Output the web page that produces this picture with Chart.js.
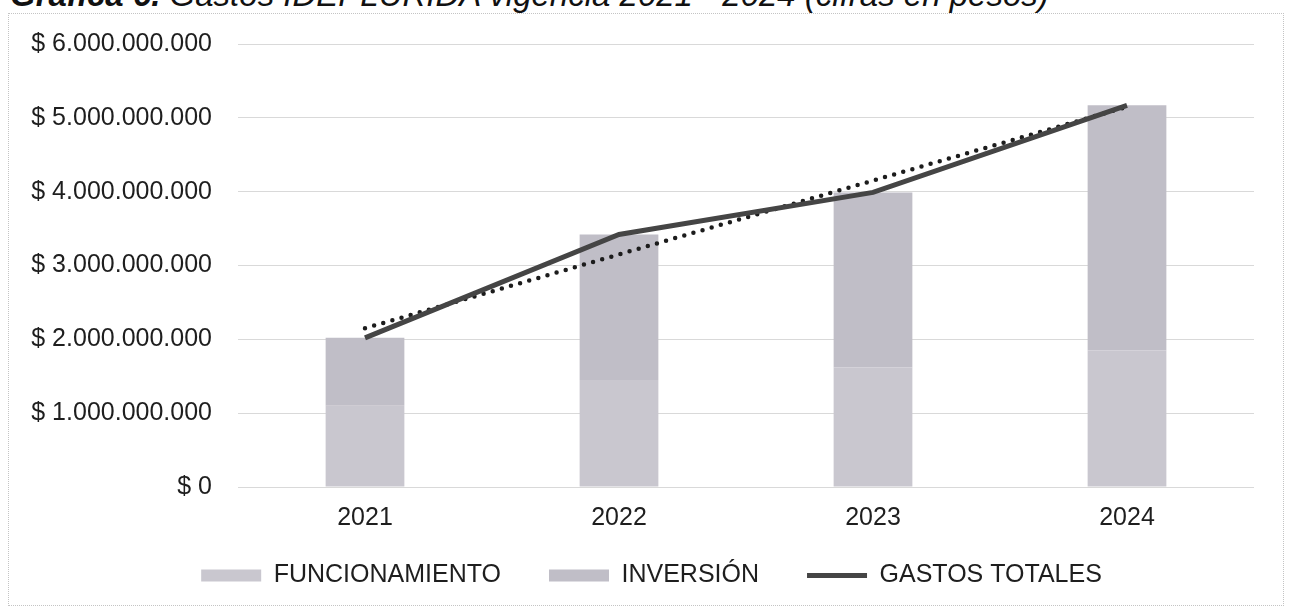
<!DOCTYPE html>
<html>
<head>
<meta charset="utf-8">
<script src="https://cdn.jsdelivr.net/npm/chart.js@4.4.1/dist/chart.umd.min.js"></script>
<style>
	body { margin: 0; background: #fff; overflow: hidden; width: 1291px; height: 612px; position: relative; }
	#titulo { position: absolute; left: 10px; top: -22px; font: italic 33px 'Liberation Sans', Arial, sans-serif; line-height: 33px; color: #111; white-space: nowrap; }
	#marco { position: absolute; left: 8px; top: 13px; width: 1276px; height: 593px; border: 1px dotted #c4c4c4; box-sizing: border-box; }
	#grafica { position: absolute; left: 9px; top: 14px; }
</style>
</head>
<body>
<div id="titulo"><b>Gráfica 6.</b> Gastos IDEPLURIDA vigencia 2021 - 2024 (cifras en pesos)</div>
<div id="marco"></div>
<canvas id="grafica" width="1274" height="591"></canvas>
<script>
// Datos (pesos)
const years = ['2021', '2022', '2023', '2024']
const funcionamiento = [1100000000, 1450000000, 1620000000, 1850000000]
const inversion = [920000000, 1970000000, 2370000000, 3320000000]
const gastosTotales = [2020000000, 3420000000, 3990000000, 5170000000]
// linea de tendencia: solo extremos
const tendencia = [2150000000, null, null, 5150000000]

const fuente = "'Liberation Sans', Arial, sans-serif"
const legendRank = [2, 3, 0, 1]

function pesos(v) {
	return '$ ' + String(v).replace(/\B(?=(\d{3})+(?!\d))/g, '.')
}

// mueve la leyenda hacia arriba y la centra como en el original
const moverLeyenda = {
	id: 'moverLeyenda',
	afterLayout(chart) {
		const l = chart.legend
		l.top -= 20
		l.bottom -= 20
		l.left += 20
		l.right += 20
	}
}

const ctx = document.querySelector('#grafica')

const data = {
	labels: years,
	datasets: [
		{
			type: 'line',
			label: 'GASTOS TOTALES',
			data: gastosTotales,
			stack: 'total',
			borderColor: '#454545',
			backgroundColor: '#454545',
			borderWidth: 5,
			pointRadius: 0,
			tension: 0
		},
		{
			type: 'line',
			label: 'Tendencia',
			data: tendencia,
			stack: 'trend',
			spanGaps: true,
			borderColor: '#1c1c1c',
			borderWidth: 4.5,
			borderDash: [0, 9.5],
			borderCapStyle: 'round',
			pointRadius: 0
		},
		{
			type: 'bar',
			label: 'FUNCIONAMIENTO',
			data: funcionamiento,
			stack: 'gastos',
			backgroundColor: 'rgb(201, 199, 207)',
			borderWidth: 0
		},
		{
			type: 'bar',
			label: 'INVERSIÓN',
			data: inversion,
			stack: 'gastos',
			backgroundColor: 'rgb(192, 190, 199)',
			borderWidth: 0
		}
	]
}

const config = {
	data: data,
	plugins: [moverLeyenda],
	options: {
		responsive: false,
		devicePixelRatio: 1,
		animation: false,
		layout: { padding: { top: 30, right: 29, left: 0, bottom: 0 } },
		datasets: { bar: { categoryPercentage: 1, barPercentage: 0.31 } },
		scales: {
			x: {
				stacked: true,
				grid: { display: false, drawTicks: false },
				border: { display: false },
				ticks: { color: '#1e1e1e', font: { family: fuente, size: 25 }, padding: 16 },
				afterFit: s => { s.height = 48 }
			},
			y: {
				stacked: true,
				min: 0,
				max: 6000000000,
				grid: { color: '#d9d9d9', lineWidth: 1, drawTicks: false },
				border: { display: false },
				ticks: {
					stepSize: 1000000000,
					color: '#1e1e1e',
					font: { family: fuente, size: 25 },
					padding: 26,
					callback: v => pesos(v)
				},
				afterFit: s => {
					s.width = 229
					s.paddingTop = 0
					s.paddingBottom = 0
				}
			}
		},
		plugins: {
			tooltip: { enabled: false },
			legend: {
				position: 'bottom',
				maxHeight: 70,
				labels: {
					color: '#1e1e1e',
					font: { family: fuente, size: 25 },
					usePointStyle: true,
					pointStyleWidth: 60,
					boxHeight: 12,
					padding: 48,
					filter: item => item.datasetIndex !== 1,
					sort: (a, b) => legendRank[a.datasetIndex] - legendRank[b.datasetIndex],
					generateLabels: chart => {
						const base = Chart.defaults.plugins.legend.labels.generateLabels(chart)
						base.forEach(item => {
							const ds = chart.data.datasets[item.datasetIndex]
							if (ds.type === 'line') {
								item.pointStyle = 'line'
								item.strokeStyle = ds.borderColor
								item.lineWidth = 5
							} else {
								item.pointStyle = 'rect'
								item.lineWidth = 0
							}
						})
						return base
					}
				}
			}
		}
	}
}

const grafica = new Chart(ctx, config)
</script>
</body>
</html>
